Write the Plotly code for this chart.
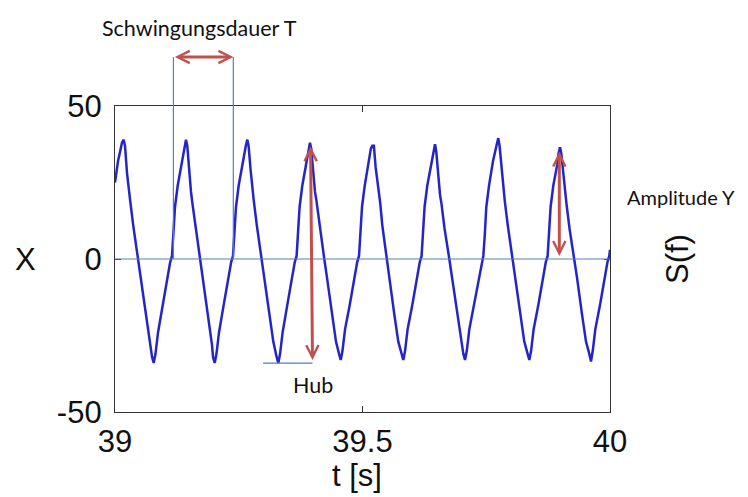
import plotly.graph_objects as go

# time axis [s]
t = [
    39.0000, 39.0020, 39.0061, 39.0101, 39.0141,
    39.0176, 39.0202, 39.0243, 39.0277, 39.0307, 39.0368, 39.0465, 39.0519, 39.0620, 39.0701, 39.0748, 39.0782,
    39.0818, 39.0869, 39.0964, 39.1045, 39.1085, 39.1115, 39.1152, 39.1182, 39.1212, 39.1267, 39.1348, 39.1404,
    39.1434, 39.1460, 39.1501, 39.1535, 39.1565, 39.1626, 39.1723, 39.1777, 39.1878, 39.1959, 39.1980, 39.2014,
    39.2050, 39.2101, 39.2196, 39.2277, 39.2317, 39.2347, 39.2384, 39.2414, 39.2444, 39.2499, 39.2580, 39.2643,
    39.2673, 39.2699, 39.2740, 39.2774, 39.2804, 39.2865, 39.2962, 39.3016, 39.3117, 39.3198, 39.3265, 39.3299,
    39.3335, 39.3386, 39.3481, 39.3562, 39.3602, 39.3632, 39.3669, 39.3699, 39.3729, 39.3784, 39.3865, 39.3909,
    39.3939, 39.3965, 39.4006, 39.4040, 39.4070, 39.4131, 39.4228, 39.4282, 39.4383, 39.4464, 39.4526, 39.4560,
    39.4596, 39.4647, 39.4742, 39.4823, 39.4863, 39.4893, 39.4930, 39.4960, 39.4990, 39.5045, 39.5126, 39.5168,
    39.5198, 39.5230, 39.5265, 39.5320, 39.5360, 39.5400, 39.5487, 39.5541, 39.5642, 39.5723, 39.5790, 39.5824,
    39.5860, 39.5911, 39.6006, 39.6087, 39.6127, 39.6157, 39.6194, 39.6224, 39.6254, 39.6309, 39.6390, 39.6435,
    39.6465, 39.6491, 39.6532, 39.6566, 39.6596, 39.6657, 39.6754, 39.6808, 39.6909, 39.6990, 39.7037, 39.7071,
    39.7107, 39.7158, 39.7253, 39.7334, 39.7374, 39.7404, 39.7441, 39.7471, 39.7501, 39.7556, 39.7637, 39.7713,
    39.7743, 39.7769, 39.7810, 39.7844, 39.7874, 39.7935, 39.8032, 39.8086, 39.8187, 39.8268, 39.8336, 39.8370,
    39.8406, 39.8457, 39.8552, 39.8633, 39.8673, 39.8703, 39.8740, 39.8770, 39.8800, 39.8855, 39.8936, 39.8960,
    39.8990, 39.9016, 39.9057, 39.9091, 39.9121, 39.9182, 39.9279, 39.9333, 39.9434, 39.9515, 39.9582, 39.9616,
    39.9652, 39.9703, 39.9798, 39.9879, 39.9919, 39.9949, 39.9986, 40.0000,
]

# displacement X
x = [
    25, 28, 32, 35, 38,
    39, 37, 28, 22, 19, 11, 0, -6, -18, -27, -32, -34,
    -31, -24, -15, -7, -4, -1, 1, 8, 17, 24, 32, 37,
    39, 37, 28, 22, 18, 11, 0, -6, -19, -28, -32, -34,
    -31, -24, -15, -7, -4, -1, 1, 8, 17, 24, 32, 37,
    39, 37, 29, 23, 19, 11, 0, -6, -18, -27, -32, -34,
    -31, -24, -15, -7, -4, -1, 1, 8, 17, 24, 32, 36,
    38, 36, 28, 22, 19, 11, 0, -6, -18, -27, -31, -33,
    -30, -23, -15, -7, -4, -1, 1, 8, 17, 24, 32, 36,
    37, 37, 30, 24, 18, 11, 0, -6, -18, -27, -31, -33,
    -30, -23, -15, -7, -4, -1, 1, 8, 17, 24, 31, 35.5,
    37.5, 35, 27, 21, 18, 10, 0, -6, -18, -27, -31, -33,
    -30, -23, -15, -7, -4, -1, 1, 8, 17, 24, 32, 37.5,
    39.5, 37, 29, 23, 19, 11, 0, -6, -18, -27, -31, -33,
    -30, -23, -15, -7, -4, -1, 1, 8, 17, 24, 31, 34.5,
    36.5, 34.5, 27, 21, 18, 10, 0, -6, -18, -27, -31, -33.5,
    -30, -23, -15, -7, -4, -1, 1, 3,
]

x_ticks = [39, 39.5, 40]
x_ticktext = ["39", "39.5", "40"]
y_ticks = [-50, 0, 50]
y_ticktext = ["-50", "0", "50"]

# annotation anchors (data units)
period_start = 39.118
period_end = 39.239
hub_x = 39.399
hub_top = 37.3
hub_bottom = -33
hub_line_start = 39.299
amp_x = 39.8976
amp_top = 35.6
amp_bottom = 1

BLUE_WAVE = "#2424c8"
BLUE_GUIDE = "#4F81BD"
RED = "#C0504D"
AX_FONT = "Liberation Sans, Arial, sans-serif"
NOTE_FONT = "Lato, Carlito, Calibri, sans-serif"

fig = go.Figure()
fig.add_trace(go.Scatter(x=t, y=x, mode="lines",
                         line=dict(color=BLUE_WAVE, width=2.5), showlegend=False,
                         hoverinfo="skip"))

# the page body has an 8px margin, so the figure is 8px smaller than the window
fig.update_layout(
    width=740, height=489,
    margin=dict(l=107, r=138, t=98, b=85),
    paper_bgcolor="white", plot_bgcolor="white",
    xaxis=dict(range=[39, 40], tickvals=x_ticks, ticktext=x_ticktext,
               showgrid=False, zeroline=False, showline=True, mirror="ticks",
               linecolor="#333333", linewidth=1.3, ticks="inside", ticklen=6,
               tickcolor="#333333", tickfont=dict(family=AX_FONT, size=31, color="#111111"),
               ticklabelstandoff=2),
    yaxis=dict(range=[-50, 50], tickvals=y_ticks, ticktext=y_ticktext,
               showgrid=False, zeroline=False, showline=True, mirror="ticks",
               linecolor="#333333", linewidth=1.3, ticks="inside", ticklen=6,
               tickcolor="#333333", tickfont=dict(family=AX_FONT, size=31, color="#111111"),
               ticklabelstandoff=6),
)

shapes = [
    # zero line
    dict(type="line", xref="x", yref="y", x0=39, x1=40, y0=0, y1=0,
         line=dict(color=BLUE_GUIDE, width=1.2), layer="above"),
    # period guide lines
    dict(type="line", xref="x", yref="paper", x0=period_start, x1=period_start, y0=0.5, y1=1.16,
         line=dict(color=BLUE_GUIDE, width=1.2)),
    dict(type="line", xref="x", yref="paper", x0=period_end, x1=period_end, y0=0.5, y1=1.16,
         line=dict(color=BLUE_GUIDE, width=1.2)),
    # Hub baseline
    dict(type="line", xref="x", yref="y", x0=hub_line_start, x1=hub_x, y0=-34, y1=-34,
         line=dict(color=BLUE_GUIDE, width=1.2)),
]
fig.update_layout(shapes=shapes)

arrow_common = dict(text="", showarrow=True, arrowcolor=RED, arrowwidth=3,
                    arrowhead=5, startarrowhead=5, arrowsize=0.8, startarrowsize=0.8,
                    arrowside="end+start", standoff=0, startstandoff=0)

fig.add_annotation(x=period_end, y=1.16, xref="x", yref="paper",
                   ax=period_start, ay=0, axref="x", ayref="pixel", **arrow_common)
fig.add_annotation(x=hub_x, y=hub_bottom, xref="x", yref="y",
                   ax=hub_x - 0.004, ay=hub_top, axref="x", ayref="y", **arrow_common)
fig.add_annotation(x=amp_x, y=amp_bottom, xref="x", yref="y",
                   ax=amp_x, ay=amp_top, axref="x", ayref="y", **arrow_common)

note_font = dict(family=NOTE_FONT, size=21.5, color="#111111")
fig.add_annotation(text="Schwingungsdauer T", x=0.1717, y=1.2549, xref="paper", yref="paper",
                   showarrow=False, xanchor="center", yanchor="middle", font=note_font)
fig.add_annotation(text="Hub", x=0.40, y=0.088, xref="paper", yref="paper",
                   showarrow=False, xanchor="center", yanchor="middle", font=note_font)
fig.add_annotation(text="Amplitude Y", x=1.0303, y=0.7026, xref="paper", yref="paper",
                   showarrow=False, xanchor="left", yanchor="middle",
                   font=dict(family=NOTE_FONT, size=20, color="#111111"))

ax_font = dict(family=AX_FONT, size=31, color="#111111")
fig.add_annotation(text="X", x=-0.1818, y=0.5, xref="paper", yref="paper",
                   showarrow=False, xanchor="center", yanchor="middle", font=ax_font)
fig.add_annotation(text="t [s]", x=0.489, y=-0.209, xref="paper", yref="paper",
                   showarrow=False, xanchor="center", yanchor="middle", font=ax_font)
fig.add_annotation(text="S(f)", x=1.1354, y=0.5, xref="paper", yref="paper",
                   showarrow=False, xanchor="center", yanchor="middle", textangle=-90,
                   font=ax_font)

fig.write_html("out.html")
